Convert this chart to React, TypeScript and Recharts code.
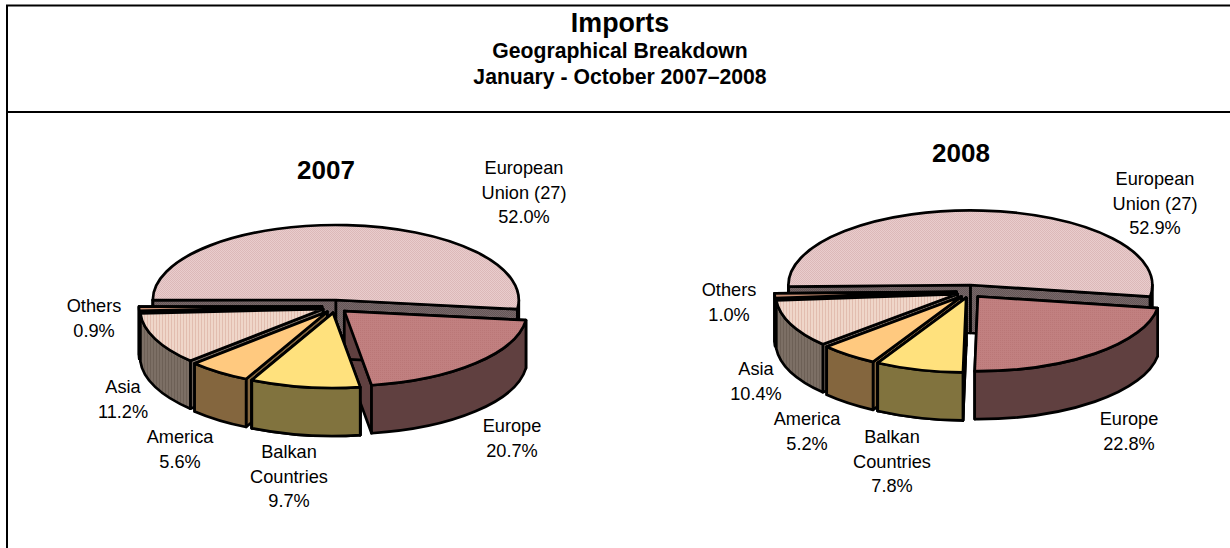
import React from 'react';
import { PieChart, Pie } from 'recharts';

const categories = ['European Union (27)', 'Others', 'Asia', 'America', 'Balkan Countries', 'Europe'];
const labelLines = [['European', 'Union (27)'], ['Others'], ['Asia'], ['America'], ['Balkan', 'Countries'], ['Europe']];
const values2007 = [52.0, 0.9, 11.2, 5.6, 9.7, 20.7];
const values2008 = [52.9, 1.0, 10.4, 5.2, 7.8, 22.8];

const topFills = ['url(#dotsPink)', '#c98f74', 'url(#stripesPink)', '#ffc97f', '#ffe17d', 'url(#dotsRose)'];
const wallFills = ['url(#dotsWall)', '#5a4a3c', 'url(#stripesWall)', '#84663e', '#81733e', '#604040'];

const labels2007 = [[524, 168], [94, 306], [123, 387], [180, 437], [289, 452], [512, 426]];
const labels2008 = [[1155, 179], [729, 290], [756, 369], [807, 419], [892, 437], [1129, 419]];

const BALKAN = 4;
const FONT = 'Liberation Sans, Arial, sans-serif';

const toRows = (values: number[]) => categories.map((name, i) => ({ name, value: values[i] }));

const TILT = 0.41;
const DEPTH = 48;
const EXPLODE = 13;
const EXPLODE_TILT = 0.5;

const pt = (cx: number, cy: number, r: number, deg: number, tilt = TILT) => {
  const a = (deg * Math.PI) / 180;
  return [cx + r * Math.cos(a), cy - r * Math.sin(a) * tilt];
};

// top face, outer wall and the two cut faces of one tilted slice
const Slice3D = (props: any) => {
  const { cx, cy, outerRadius: r, startAngle, endAngle, index } = props;
  const s = Math.min(startAngle, endAngle);
  const e = Math.max(startAngle, endAngle);
  const mid = (s + e) / 2;
  const [ox, oy] = pt(cx, cy, EXPLODE, mid, EXPLODE_TILT);
  const [ax, ay] = pt(ox, oy, r, s);
  const [bx, by] = pt(ox, oy, r, e);
  const ry = r * TILT;
  const big = e - s > 180 ? 1 : 0;
  const stroke = { stroke: '#000', strokeWidth: 2.7, strokeLinejoin: 'round' as const };

  const front: number[][] = [];
  [[-180, 0], [180, 360]].forEach(([lo, hi]) => {
    const f = Math.max(s, lo);
    const t = Math.min(e, hi);
    if (t > f) front.push([f, t]);
  });

  return (
    <g>
      <path d={`M${ox} ${oy}L${ax} ${ay}L${ax} ${ay + DEPTH}L${ox} ${oy + DEPTH}Z`} fill={wallFills[index]} {...stroke} />
      <path d={`M${ox} ${oy}L${bx} ${by}L${bx} ${by + DEPTH}L${ox} ${oy + DEPTH}Z`} fill={wallFills[index]} {...stroke} />
      {front.map(([f, t]) => {
        const [fx, fy] = pt(ox, oy, r, f);
        const [tx, ty] = pt(ox, oy, r, t);
        return (
          <path
            key={f}
            d={`M${fx} ${fy}A${r} ${ry} 0 0 0 ${tx} ${ty}L${tx} ${ty + DEPTH}A${r} ${ry} 0 0 1 ${fx} ${fy + DEPTH}Z`}
            fill={wallFills[index]}
            {...stroke}
          />
        );
      })}
      <path d={`M${ox} ${oy}L${ax} ${ay}A${r} ${ry} 0 ${big} 0 ${bx} ${by}Z`} fill={topFills[index]} {...stroke} />
    </g>
  );
};

// the Balkan slice sits in front of the Europe cut face, so it gets painted again last
const BalkanOnTop = (props: any) => (props.index === BALKAN ? <Slice3D {...props} /> : <g />);

const makeLabel = (spots: number[][]) => (props: any) => {
  const { index, value } = props;
  const [x, y] = spots[index];
  const rows = [...labelLines[index], `${value.toFixed(1)}%`];
  return (
    <text x={x} y={y} textAnchor="middle" fontFamily={FONT} fontSize={18.2} fill="#000">
      {rows.map((row, i) => (
        <tspan key={row} x={x} y={y + i * 24.5} dominantBaseline="central">{row}</tspan>
      ))}
    </text>
  );
};

const Title = ({ x, y, size, children }: any) => (
  <text x={x} y={y} textAnchor="middle" dominantBaseline="central" fontFamily={FONT} fontWeight="bold" fontSize={size} fill="#000">
    {children}
  </text>
);

export default function App() {
  const common = { dataKey: 'value', nameKey: 'name', stroke: 'none', isAnimationActive: false, labelLine: false };
  return (
    <div style={{ position: 'absolute', left: 0, top: 0, width: 1230, height: 548, background: '#fff', overflow: 'hidden' }}>
      <PieChart width={1230} height={548} margin={{ top: 0, right: 0, bottom: 0, left: 0 }}>
        <defs>
          <pattern id="dotsPink" width="2" height="2" patternUnits="userSpaceOnUse">
            <rect width="2" height="2" fill="#e9cdcd" />
            <rect width="1" height="1" fill="#dcb8b8" />
            <rect x="1" y="1" width="1" height="1" fill="#dcb8b8" />
          </pattern>
          <pattern id="dotsRose" width="2" height="2" patternUnits="userSpaceOnUse">
            <rect width="2" height="2" fill="#c18080" />
            <rect width="1" height="1" fill="#ba7777" />
          </pattern>
          <pattern id="dotsWall" width="2" height="2" patternUnits="userSpaceOnUse">
            <rect width="2" height="2" fill="#77696a" />
            <rect width="1" height="1" fill="#655556" />
            <rect x="1" y="1" width="1" height="1" fill="#655556" />
          </pattern>
          <pattern id="stripesPink" width="3" height="3" patternUnits="userSpaceOnUse">
            <rect width="3" height="3" fill="#efd6c9" />
            <rect width="1" height="3" fill="#e2bdaf" />
          </pattern>
          <pattern id="stripesWall" width="3" height="3" patternUnits="userSpaceOnUse">
            <rect width="3" height="3" fill="#7c6f65" />
            <rect width="1" height="3" fill="#6d6056" />
          </pattern>
        </defs>

        <line x1={6} y1={5.5} x2={1230} y2={5.5} stroke="#000" strokeWidth={2} />
        <line x1={7} y1={5} x2={7} y2={548} stroke="#000" strokeWidth={2} />
        <line x1={6} y1={112} x2={1230} y2={112} stroke="#000" strokeWidth={2} />

        <Title x={620} y={23} size={26.8}>Imports</Title>
        <Title x={620} y={50} size={21.2}>Geographical Breakdown</Title>
        <Title x={620} y={76} size={21.2}>January - October 2007–2008</Title>
        <Title x={326} y={170} size={26}>2007</Title>
        <Title x={961} y={153} size={26}>2008</Title>

        <Pie {...common} data={toRows(values2007)} cx={335} cy={306.5} outerRadius={183} startAngle={-7} endAngle={353} shape={Slice3D} label={makeLabel(labels2007)} />
        <Pie {...common} data={toRows(values2007)} cx={335} cy={306.5} outerRadius={183} startAngle={-7} endAngle={353} shape={BalkanOnTop} legendType="none" />
        <Pie {...common} data={toRows(values2008)} cx={969.5} cy={291.5} outerRadius={182} startAngle={-9} endAngle={351} shape={Slice3D} label={makeLabel(labels2008)} />
        <Pie {...common} data={toRows(values2008)} cx={969.5} cy={291.5} outerRadius={182} startAngle={-9} endAngle={351} shape={BalkanOnTop} legendType="none" />
      </PieChart>
    </div>
  );
}
